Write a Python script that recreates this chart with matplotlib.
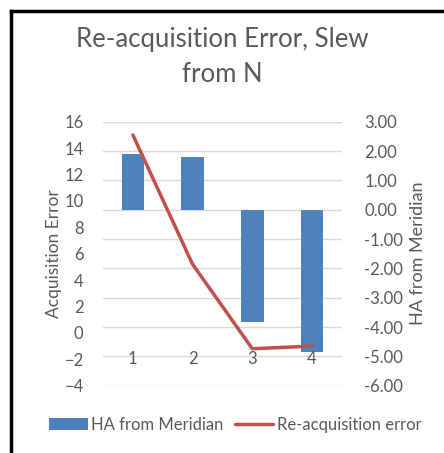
import matplotlib
matplotlib.use("Agg")
import matplotlib.pyplot as plt
from matplotlib.lines import Line2D

plt.rcParams['font.family'] = ['Lato', 'DejaVu Sans']

# data
categories = [1, 2, 3, 4]
ha_from_meridian = [1.91, 1.81, -3.84, -4.85]
reacq_error = [15.0, 5.2, -1.2, -1.0]
left_ticks = list(range(-4, 17, 2))
right_ticks = [-6, -5, -4, -3, -2, -1, 0, 1, 2, 3]

BLUE = '#4F81BD'
RED = '#C0504D'
GREY = '#595959'
GRID = '#D9D9D9'

fig = plt.figure(figsize=(4.44, 4.53), dpi=100)
ax = fig.add_axes([0.232, 0.1486, 0.538, 0.5827])
ax2 = ax.twinx()

# bars on the secondary axis, drawn underneath the line
ax.set_zorder(ax2.get_zorder() + 1)
ax.patch.set_visible(False)

bars = ax2.bar(categories, ha_from_meridian, width=0.38, color=BLUE, zorder=2)
line, = ax.plot(categories, reacq_error, color=RED, lw=2.5, zorder=3,
                solid_capstyle='round')

ax.set_xlim(0.5, 4.5)
ax.set_ylim(-4, 16)
ax.set_yticks(left_ticks)
ax2.set_ylim(-6, 3)
ax2.set_yticks(right_ticks)
ax2.set_yticklabels([f'{v:.2f}' for v in right_ticks])

ax2.grid(axis='y', color=GRID, lw=1)
ax2.set_axisbelow(True)

for a in (ax, ax2):
    for s in a.spines.values():
        s.set_visible(False)
    a.tick_params(length=0, colors=GREY, labelsize=12)

ax.spines['bottom'].set_position(('data', 0))
ax.set_xticks(categories)
ax.tick_params(axis='x', pad=13)
ax.tick_params(axis='y', pad=14)
ax2.tick_params(axis='y', pad=16)
ax2.tick_params(axis='x', labelbottom=False)

ax.set_ylabel('Acquisition Error', color=GREY, fontsize=12.5, labelpad=2)
ax2.set_ylabel('HA from Meridian', color=GREY, fontsize=13, labelpad=5)

fig.text(0.5, 1 - 47 / 453, 'Re-acquisition Error, Slew', ha='center',
         va='baseline', fontsize=18.5, color=GREY)
fig.text(0.5, 1 - 82 / 453, 'from N', ha='center', va='baseline',
         fontsize=18.5, color=GREY)

fig.legend([bars, line], ['HA from Meridian', 'Re-acquisition error'],
           loc='center', bbox_to_anchor=(0.53, 1 - 425 / 453), ncol=2,
           frameon=False, fontsize=12, handlelength=2.3, handletextpad=0.2,
           columnspacing=0.7, labelcolor=GREY)

# chart border (left and top edges visible in the reference)
fig.add_artist(Line2D([11 / 444, 11 / 444], [0, 1 - 11 / 453],
                      transform=fig.transFigure, color='black', lw=2.5))
fig.add_artist(Line2D([11 / 444, 1], [1 - 11 / 453, 1 - 11 / 453],
                      transform=fig.transFigure, color='black', lw=2.5))

fig.savefig('out.png', dpi=100)
